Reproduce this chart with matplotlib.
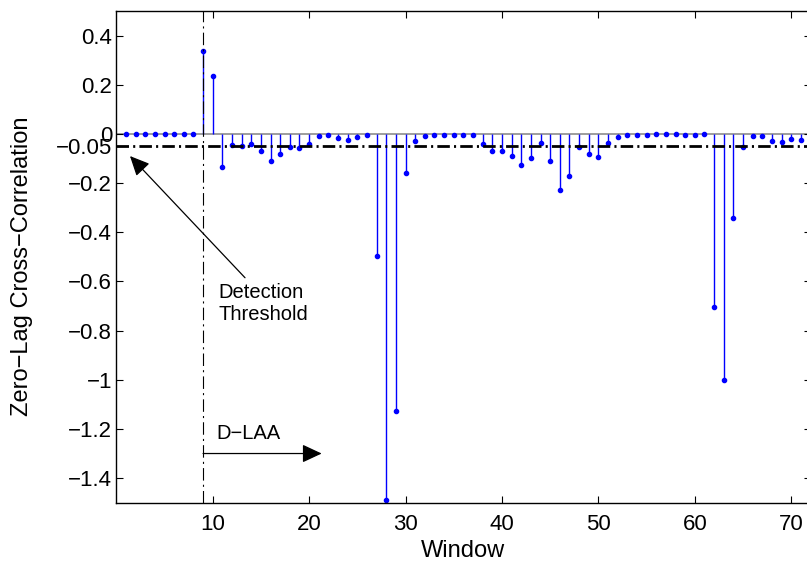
# stem plot of zero-lag cross-correlation per window
import numpy as np
import matplotlib.pyplot as plt

plt.rcParams['font.family'] = ['Liberation Sans', 'DejaVu Sans']
plt.rcParams['lines.scale_dashes'] = False

# data
window = np.arange(1, 72)
xcorr = [0, 0, 0, 0, 0, 0, 0, 0, 0.338, 0.235,
         -0.135, -0.045, -0.049, -0.039, -0.069, -0.109, -0.083, -0.054, -0.058, -0.039,
         -0.007, -0.004, -0.015, -0.023, -0.011, -0.003, -0.498, -1.488, -1.125, -0.159,
         -0.028, -0.007, -0.003, -0.003, -0.003, -0.003, -0.005, -0.043, -0.071, -0.071,
         -0.090, -0.125, -0.096, -0.038, -0.110, -0.230, -0.171, -0.052, -0.080, -0.095,
         -0.038, -0.012, -0.005, -0.005, -0.004, -0.001, -0.001, -0.001, -0.003, -0.003,
         -0.001, -0.703, -1.001, -0.343, -0.054, -0.008, -0.008, -0.027, -0.033, -0.019,
         -0.024]
threshold = -0.05
onset = 9

yticks = [0.4, 0.2, 0, -0.05, -0.2, -0.4, -0.6, -0.8, -1.0, -1.2, -1.4]
ytick_labels = ['0.4', '0.2', '0', '\u22120.05', '\u22120.2', '\u22120.4', '\u22120.6',
                '\u22120.8', '\u22121', '\u22121.2', '\u22121.4']

fig = plt.figure(figsize=(8.07, 5.64), dpi=100)
ax = fig.add_axes([0.1441, 0.1087, 0.8603, 0.8718])

ax.axhline(0, color='0.55', linewidth=1.2, zorder=1)
markers, stems, base = ax.stem(window, xcorr, linefmt='b-', markerfmt='b.', basefmt=' ')
stems.set_linewidth(1.0)
markers.set_markersize(6)

dashdot = (0, (9, 3, 1.5, 3))
ax.axhline(threshold, color='k', linewidth=2, linestyle=dashdot, zorder=3)
ax.axvline(onset, color='k', linewidth=0.8, linestyle=dashdot, zorder=3)

# annotations
head = '-|>,head_length=0.6,head_width=0.28'
ax.annotate('', xy=(1.42, -0.09), xytext=(13.35, -0.585),
            arrowprops=dict(arrowstyle=head, color='k', linewidth=0.9,
                            mutation_scale=20, shrinkA=0, shrinkB=0))
ax.text(10.6, -0.69, 'Detection\nThreshold', fontsize=14.5, ha='left', va='center',
        linespacing=1.25)
ax.annotate('', xy=(21.3, -1.30), xytext=(9.0, -1.30),
            arrowprops=dict(arrowstyle=head, color='k', linewidth=0.9,
                            mutation_scale=20, shrinkA=0, shrinkB=0))
ax.text(10.4, -1.218, 'D\u2212LAA', fontsize=14.5, ha='left', va='center')

ax.set_xlim(0, 72)
ax.set_ylim(-1.5, 0.5)
ax.set_xticks([10, 20, 30, 40, 50, 60, 70])
ax.set_yticks(yticks)
ax.set_yticklabels(ytick_labels)
ax.tick_params(direction='in', length=5, width=0.8, top=True, right=True,
               labelsize=16)
ax.tick_params(axis='x', pad=8)
ax.tick_params(axis='y', pad=3)
for sp in ax.spines.values():
    sp.set_linewidth(1.0)

ax.set_xlabel('Window', fontsize=17, va='center', ha='center')
ax.xaxis.set_label_coords(0.5, -0.098)
ax.set_ylabel('Zero\u2212Lag Cross\u2212Correlation', fontsize=17, va='center', ha='center')
ax.yaxis.set_label_coords(-0.136, 0.481)

fig.savefig('out.png', dpi=100)
